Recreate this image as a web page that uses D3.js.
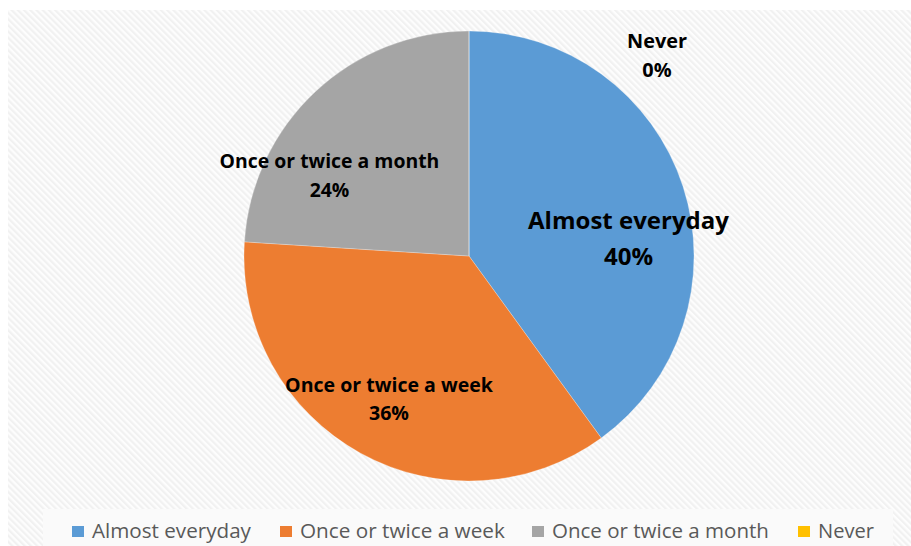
<!DOCTYPE html>
<html><head><meta charset="utf-8">
<script src="https://cdn.jsdelivr.net/npm/d3@7"></script>
<style>html,body{margin:0;padding:0;background:#fff;}svg{display:block;}</style>
</head><body>
<svg id="c" width="911" height="546"></svg>
<script>
const categories = ["Almost everyday", "Once or twice a week", "Once or twice a month", "Never"];
const values = [40, 36, 24, 0];
const pctLabels = ["40%", "36%", "24%", "0%"];
const colors = ["#5B9BD5", "#ED7D31", "#A5A5A5", "#FFC000"];

const FONT = "'Open Sans', Lato, sans-serif";
const svg = d3.select("#c");
const defs = svg.append("defs");
const pat = defs.append("pattern").attr("id","stripes").attr("patternUnits","userSpaceOnUse")
  .attr("width",4.4).attr("height",4.4).attr("patternTransform","rotate(-45)");
pat.append("rect").attr("width",4.4).attr("height",4.4).attr("fill","#fdfdfd");
pat.append("rect").attr("width",2.2).attr("height",4.4).attr("fill","#f1f1f1");

svg.append("rect").attr("x",8).attr("y",10).attr("width",903).attr("height",536).attr("fill","url(#stripes)");
svg.append("rect").attr("x",43).attr("y",509).attr("width",850).attr("height",37).attr("fill","#fafafa");

const cx = 469, cy = 256, r = 225;
const pie = d3.pie().sort(null).value(d => d)(values);
const arc = d3.arc().innerRadius(0).outerRadius(r);
const g = svg.append("g").attr("transform",`translate(${cx},${cy})`);
g.selectAll("path").data(pie).join("path")
  .attr("d", arc).attr("fill",(d,i)=>colors[i]).attr("stroke","#ffffff").attr("stroke-width",0.25);

// scale font-size of a text element so that its width matches target
function fit(t, base, target){
  t.attr("font-size", base);
  const w = t.node().getComputedTextLength();
  t.attr("font-size", base * target / w);
  return base * target / w;
}

// data labels: centre x, first baseline, second baseline, target width of name line
const labelPos = [
  {x:628.5, y1:229, y2:265, w:201},
  {x:389, y1:392, y2:420, w:208},
  {x:329.5, y1:168, y2:197, w:220},
  {x:657, y1:48, y2:77, w:60}
];
labelPos.forEach((p,i)=>{
  const t1 = svg.append("text").attr("text-anchor","middle").attr("x",p.x).attr("y",p.y1)
    .attr("font-family",FONT).attr("font-weight","bold").attr("fill","#000").text(categories[i]);
  const fs = fit(t1, 20, p.w);
  svg.append("text").attr("text-anchor","middle").attr("x",p.x).attr("y",p.y2)
    .attr("font-family",FONT).attr("font-weight","bold").attr("fill","#000")
    .attr("font-size",fs).text(pctLabels[i]);
});

// legend
const legendX = [72, 280, 532, 798];
const legendW = [159, 205, 217, 56];
categories.forEach((c,i)=>{
  svg.append("rect").attr("x",legendX[i]).attr("y",526).attr("width",12).attr("height",11).attr("fill",colors[i]);
  const t = svg.append("text").attr("x",legendX[i]+20).attr("y",537.5)
    .attr("font-family",FONT).attr("fill","#595959").text(c);
  fit(t, 19, legendW[i]);
});
</script>
</body></html>
